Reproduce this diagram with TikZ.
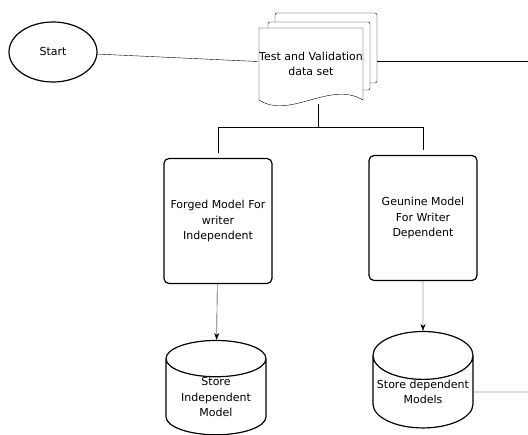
\documentclass[tikz,border=0pt]{standalone}
\usepackage{fontspec}
\setmainfont{DejaVu Sans}
\usetikzlibrary{shapes.geometric,arrows.meta,backgrounds}

\begin{document}
\begin{tikzpicture}
  [x=1pt,y=-1pt,line width=1.2pt,
   every node/.style={font=\fontsize{11}{15.5}\selectfont,align=center,inner sep=0pt},
   terminal/.style={draw,ellipse,minimum width=88,minimum height=60},
   sheet/.style={draw,fill=white,rounded corners=2pt},
   docnode/.style={minimum width=104,minimum height=72},
   model/.style={draw,rectangle,rounded corners=5pt,minimum width=108,minimum height=125},
   store/.style={draw,cylinder,shape border rotate=90,aspect=0.52,minimum width=100,minimum height=86}]
 \useasboundingbox (0,0) rectangle (528,435);

 \node (start)[terminal] at (53,52) {Start};
 \node (data)[docnode] at (311,64) {Test and Validation\\ data set};
 \node (forged)[model] at (218,221) {Forged Model For\\ writer\\ Independent};
 \node (genuine)[model] at (423,218) {Geunine Model\\ For Writer\\ Dependent};
 \node (indstore)[store] at (216,397) {Store\\ Independent\\ Model};
 \node (depstore)[store] at (423,392) {Store dependent\\ Models};

 % stacked documents behind the text
 \begin{pgfonlayer}{background}
  \draw[sheet] (275,83) -- (275,13) -- (377,13) -- (377,83) -- cycle;
  \draw[sheet] (268,90) -- (268,22) -- (370,22) -- (370,90) -- cycle;
  \draw[fill=white] (259,100) -- (259,28) -- (363,28) -- (363,100)
    .. controls (330,80) and (290,120) .. (259,100);
 \end{pgfonlayer}

 \coordinate (dataout) at (318,104);
 \coordinate (fork) at (318,127);
 \coordinate (exitR) at (528,61);
 \coordinate (stackR) at (377,61);
 \coordinate (exitB) at (528,392);

 \draw (start) -- (data);
 \draw (stackR) -- (exitR);
 \draw (dataout) -- (fork);
 \draw[shorten >=5pt] (fork) -| (forged);
 \draw[shorten >=5pt] (fork) -| (genuine);
 \foreach \from/\to in {forged/indstore,genuine/depstore}
    \draw[-{Stealth[length=7pt,width=5pt]}] (\from) -- (\to);
 \draw (depstore.east) -- (exitB);
\end{tikzpicture}
\end{document}
